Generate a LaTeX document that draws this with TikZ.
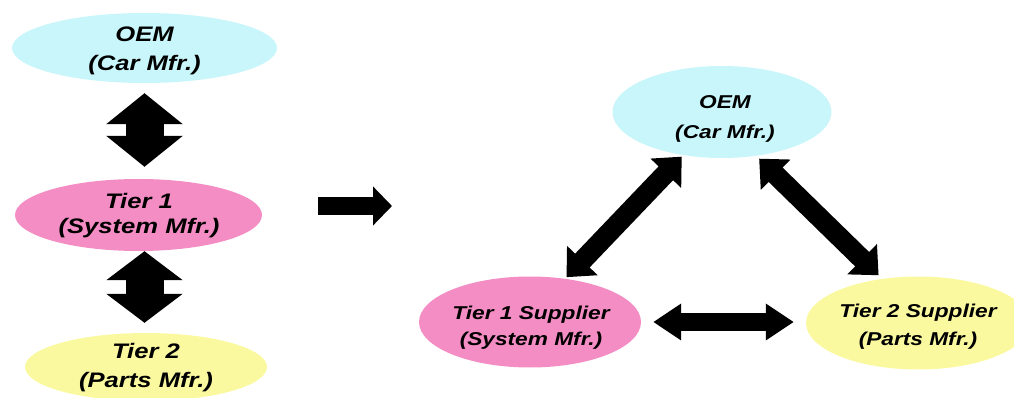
\documentclass[tikz,border=0pt]{standalone}
\usepackage{fontspec}
\newfontfamily\lab[FakeStretch=1.22]{Liberation Sans}
\usetikzlibrary{arrows.meta,shapes.geometric}
\definecolor{oemcyan}{RGB}{200,246,250}
\definecolor{tierpink}{RGB}{243,141,196}
\definecolor{tieryellow}{RGB}{250,249,160}
\begin{document}
\begin{tikzpicture}[x=1pt,y=-1pt,
  party/.style={ellipse, inner sep=0pt, draw=none},
  caption/.style={align=center, inner sep=0pt, text=black},
  big/.style={font=\lab\bfseries\itshape\fontsize{21}{#1}\selectfont},
  small/.style={font=\lab\bfseries\itshape\fontsize{18.6}{#1}\selectfont},
  link/.style args={#1/#2/#3}{line width=#1pt,
    arrows={Triangle[length=#2pt,width=#3pt]-Triangle[length=#2pt,width=#3pt]}},
]
\useasboundingbox (0,0) rectangle (1014,398);
\clip (0,0) rectangle (1014,398);

% vertical chain
\node[party, fill=oemcyan, minimum width=265pt, minimum height=70pt] (oemL) at (144.5,48) {};
\node[party, fill=tierpink, minimum width=247pt, minimum height=72pt] (t1L) at (138.5,215) {};
\node[party, fill=tieryellow, minimum width=242pt, minimum height=68pt] (t2L) at (146,367) {};
\node[caption, big=29] (oemLtxt) at (144.5,51) {OEM\\(Car Mfr.)};
\node[caption, big=25] (t1Ltxt) at (139,216) {Tier 1\\(System Mfr.)};
\node[caption, big=29] (t2Ltxt) at (146,368) {Tier 2\\(Parts Mfr.)};

\draw[link=38/31/75, shorten <=10pt, shorten >=12pt]
  (oemL.south) -- (oemL.south |- t1L.north);
\draw[link=38/29/75, shorten >=10pt]
  (oemL.south |- t1L.south) -- (oemL.south |- t2L.north);

% transition arrow
\coordinate (fromL) at (318,206);
\coordinate (toR) at (392,206);
\draw[line width=18pt, -{Triangle[length=19pt,width=38pt]}] (fromL) -- (toR);

% triangle of partners
\node[party, fill=oemcyan, minimum width=219pt, minimum height=92pt] (oemR) at (722,112) {};
\node[party, fill=tierpink, minimum width=222pt, minimum height=91pt] (t1R) at (530,322) {};
\node[party, fill=tieryellow, minimum width=224pt, minimum height=93pt] (t2R) at (918,323) {};
\node[caption, small=30] (oemRtxt) at (725,119) {OEM\\(Car Mfr.)};
\node[caption, small=26] (t1Rtxt) at (531,328) {Tier 1 Supplier\\(System Mfr.)};
\node[caption, small=28] (t2Rtxt) at (918,327) {Tier 2 Supplier\\(Parts Mfr.)};

\draw[link=20/23/41, shorten <=2pt, shorten >=2pt] (t1R.51) -- (oemR.228);
\draw[link=20/23/41, shorten <=4pt, shorten >=5pt] (oemR.-52) -- (t2R.129);
\draw[link=18/28/35, shorten <=12pt, shorten >=12pt]
  (t1R.east) -- (t1R.east -| t2R.west);
\end{tikzpicture}
\end{document}
